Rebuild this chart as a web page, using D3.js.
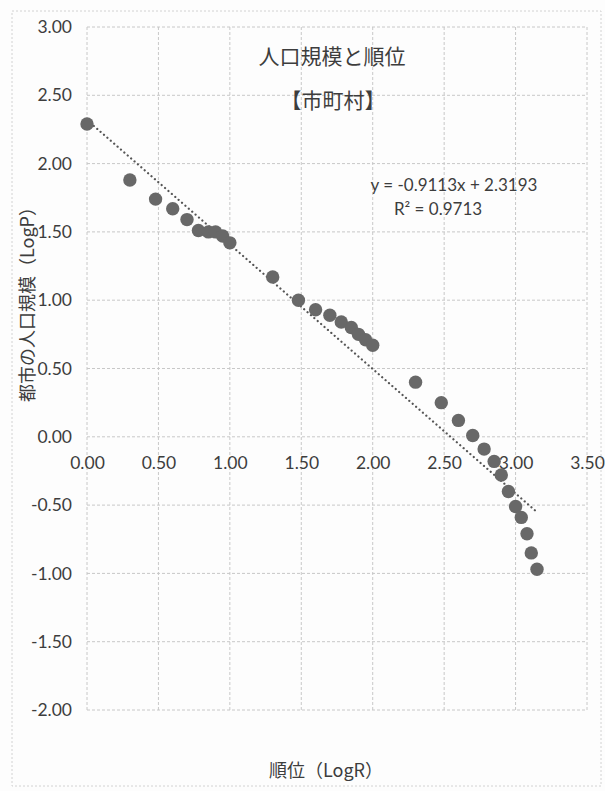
<!DOCTYPE html>
<html><head><meta charset="utf-8">
<script src="https://cdn.jsdelivr.net/npm/d3@7"></script>
<style>
html,body{margin:0;padding:0;background:#fdfdfd;}
svg{display:block;font-family:Lato,"Noto Sans CJK JP",sans-serif;}
</style></head>
<body>
<svg id="chart" width="605" height="791"></svg>
<script>
// Data: log10(rank) and log10(population)
const logR = [0.00,0.30,0.48,0.60,0.70,0.78,0.85,0.90,0.95,1.00,
              1.30,1.48,1.60,1.70,1.78,1.85,1.90,1.95,2.00,
              2.30,2.48,2.60,2.70,2.78,2.85,2.90,2.95,3.00,3.04,3.08,3.11,3.15];
const logP = [2.29,1.88,1.74,1.67,1.59,1.51,1.50,1.50,1.47,1.42,
              1.17,1.00,0.93,0.89,0.84,0.80,0.75,0.71,0.67,
              0.40,0.25,0.12,0.01,-0.09,-0.18,-0.28,-0.40,-0.51,-0.59,-0.71,-0.85,-0.97];
const xTicks = [0,0.5,1,1.5,2,2.5,3,3.5];
const yTicks = [3,2.5,2,1.5,1,0.5,0,-0.5,-1,-1.5,-2];
const slope = -0.9113, intercept = 2.3193;
const title1 = "人口規模と順位", title2 = "【市町村】";
const eqText = "y = -0.9113x + 2.3193", r2Text = "R² = 0.9713";
const xTitle = "順位（LogR）", yTitle = "都市の人口規模（LogP）";

const svg = d3.select("#chart");
const x = d3.scaleLinear().domain([0,3.5]).range([87,587]);
const y = d3.scaleLinear().domain([-2,3]).range([710,27]);
const textCol = "#3d3d3d";
const fmt = d3.formatLocale({decimal:".",thousands:",",grouping:[3],currency:["",""],minus:"-"}).format(".2f");

// outer frame
svg.append("rect").attr("x",12).attr("y",11).attr("width",589).attr("height",775)
  .attr("fill","none").attr("stroke","#d2d2d2").attr("stroke-width",1).attr("stroke-dasharray","2,2");

// gridlines
svg.append("g").selectAll("line").data(xTicks).join("line")
  .attr("x1",d=>x(d)).attr("x2",d=>x(d)).attr("y1",y(3)).attr("y2",y(-2))
  .attr("stroke","#c8c8c8").attr("stroke-width",1).attr("stroke-dasharray","3,2");
svg.append("g").selectAll("line").data(yTicks).join("line")
  .attr("y1",d=>y(d)).attr("y2",d=>y(d)).attr("x1",x(0)).attr("x2",x(3.5))
  .attr("stroke","#c8c8c8").attr("stroke-width",1).attr("stroke-dasharray","3,2");

// y axis labels
const yAxis = d3.axisLeft(y).tickValues(yTicks).tickFormat(fmt).tickSize(0).tickPadding(15);
const gy = svg.append("g").attr("transform",`translate(${x(0)},0)`).call(yAxis);
gy.select(".domain").remove();
gy.selectAll("text").attr("fill",textCol).style("font-size","17.5px").style("font-family","Lato");

// x axis labels (below the zero line)
const xAxis = d3.axisBottom(x).tickValues(xTicks).tickFormat(fmt).tickSize(0).tickPadding(20);
const gx = svg.append("g").attr("transform",`translate(0,${y(0)})`).call(xAxis);
gx.select(".domain").remove();
gx.selectAll("text").attr("fill",textCol).style("font-size","17.5px").style("font-family","Lato");

// trendline
svg.append("line")
  .attr("x1",x(d3.min(logR))).attr("y1",y(slope*d3.min(logR)+intercept))
  .attr("x2",x(d3.max(logR))).attr("y2",y(slope*d3.max(logR)+intercept))
  .attr("stroke","#555").attr("stroke-width",2.2).attr("stroke-linecap","round")
  .attr("stroke-dasharray","0.1,4.4");

// points
svg.append("g").selectAll("circle").data(logR.map((v,i)=>[v,logP[i]])).join("circle")
  .attr("cx",d=>x(d[0])).attr("cy",d=>y(d[1])).attr("r",6.7)
  .attr("fill","#686868");

// titles
svg.append("text").attr("x",332).attr("y",64).attr("text-anchor","middle")
  .attr("fill",textCol).style("font-size","21px").style("font-family","'Noto Sans CJK JP'").text(title1);
svg.append("text").attr("x",333).attr("y",108).attr("text-anchor","middle")
  .attr("fill",textCol).style("font-size","21px").style("font-family","'Noto Sans CJK JP'").text(title2);

// equation
svg.append("text").attr("x",454).attr("y",191).attr("text-anchor","middle")
  .attr("fill",textCol).style("font-size","17px").style("font-family","Lato").text(eqText);
svg.append("text").attr("x",438).attr("y",215).attr("text-anchor","middle")
  .attr("fill",textCol).style("font-size","17px").style("font-family","Lato").text(r2Text);

// axis titles
svg.append("text").attr("x",326).attr("y",777).attr("text-anchor","middle")
  .attr("fill",textCol).style("font-size","18px").style("font-family","'Noto Sans CJK JP'").text(xTitle);
svg.append("text").attr("transform","translate(34,300) rotate(-90)").attr("text-anchor","middle")
  .attr("fill",textCol).style("font-size","18px").style("font-family","'Noto Sans CJK JP'").text(yTitle);
</script>
</body></html>
